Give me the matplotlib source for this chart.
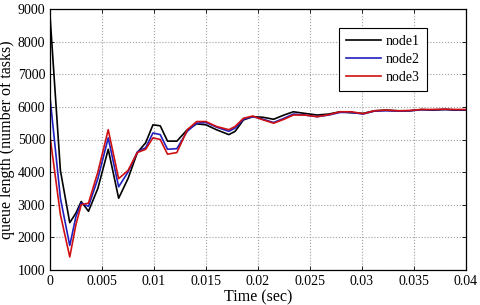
import matplotlib
matplotlib.use("Agg")
import matplotlib.pyplot as plt

t = [0, 0.001, 0.0019, 0.0025, 0.003, 0.0037, 0.0046, 0.0056, 0.0066, 0.0075, 0.0084, 0.0092,
     0.0099, 0.0106, 0.0113, 0.0122, 0.0132, 0.0141, 0.015, 0.016, 0.0172, 0.0178, 0.0186,
     0.0195, 0.0205, 0.0215, 0.0225, 0.0234, 0.0245, 0.0257, 0.0268, 0.0279, 0.029, 0.0301,
     0.0312, 0.0323, 0.0335, 0.0346, 0.0357, 0.0368, 0.038, 0.039, 0.04]
node1 = [8800, 4050, 2450, 2750, 3100, 2800, 3500, 4700, 3200, 3800, 4600, 4900, 5450, 5420,
         4950, 4950, 5300, 5480, 5450, 5300, 5150, 5250, 5600, 5700, 5680, 5620, 5750, 5850,
         5800, 5750, 5780, 5850, 5820, 5800, 5880, 5900, 5880, 5880, 5920, 5900, 5920, 5900, 5900]
node2 = [6300, 3200, 1750, 2650, 3050, 2950, 3800, 5050, 3550, 4000, 4620, 4750, 5200, 5150,
         4700, 4720, 5250, 5500, 5520, 5380, 5250, 5350, 5620, 5700, 5620, 5520, 5650, 5780,
         5750, 5700, 5750, 5830, 5830, 5780, 5870, 5880, 5870, 5880, 5910, 5910, 5920, 5910, 5910]
node3 = [5100, 2700, 1400, 2400, 3000, 3050, 4000, 5300, 3800, 4050, 4600, 4700, 5050, 5000,
         4550, 4600, 5300, 5550, 5550, 5400, 5300, 5400, 5650, 5720, 5600, 5500, 5620, 5750,
         5750, 5700, 5760, 5850, 5850, 5790, 5880, 5900, 5880, 5890, 5920, 5920, 5930, 5920, 5920]
labels = ["node1", "node2", "node3"]
xticks = [0, 0.005, 0.01, 0.015, 0.02, 0.025, 0.03, 0.035, 0.04]
xticklabels = ["0", "0.005", "0.01", "0.015", "0.02", "0.025", "0.03", "0.035", "0.04"]
yticks = [1000, 2000, 3000, 4000, 5000, 6000, 7000, 8000, 9000]

plt.rcParams['font.family'] = ['Liberation Serif', 'DejaVu Serif']
plt.rcParams['font.size'] = 10

fig = plt.figure(figsize=(4.8, 3.05), dpi=100)
ax = fig.add_axes([50/480, 1-270/305, 416/480, 261/305])

ax.plot(t, node1, color='black', lw=1.2, label=labels[0])
ax.plot(t, node2, color='#2020c0', lw=1.2, label=labels[1])
ax.plot(t, node3, color='#d01010', lw=1.2, label=labels[2])

ax.set_xlim(0, 0.04)
ax.set_ylim(1000, 9000)
ax.set_xticks(xticks)
ax.set_xticklabels(xticklabels)
ax.set_yticks(yticks)
ax.tick_params(direction='in', length=3, top=True, right=True, width=0.6, labelsize=10)
ax.grid(True, linestyle=':', color='#a0a0a0', linewidth=0.8)
for s in ax.spines.values():
    s.set_linewidth(0.9)
ax.set_xlabel("Time (sec)", labelpad=1, fontsize=11.5)
ax.set_ylabel("queue length (number of tasks)", labelpad=2, fontsize=11.5)

leg = ax.legend(loc='upper right', bbox_to_anchor=((427-50)/416, (270-28)/261),
                borderaxespad=0, fancybox=False, edgecolor='black', framealpha=1,
                handlelength=2.5, handletextpad=0.4, fontsize=10, borderpad=0.5,
                labelspacing=0.35)
leg.get_frame().set_linewidth(0.8)

fig.savefig("out.png", dpi=100)
